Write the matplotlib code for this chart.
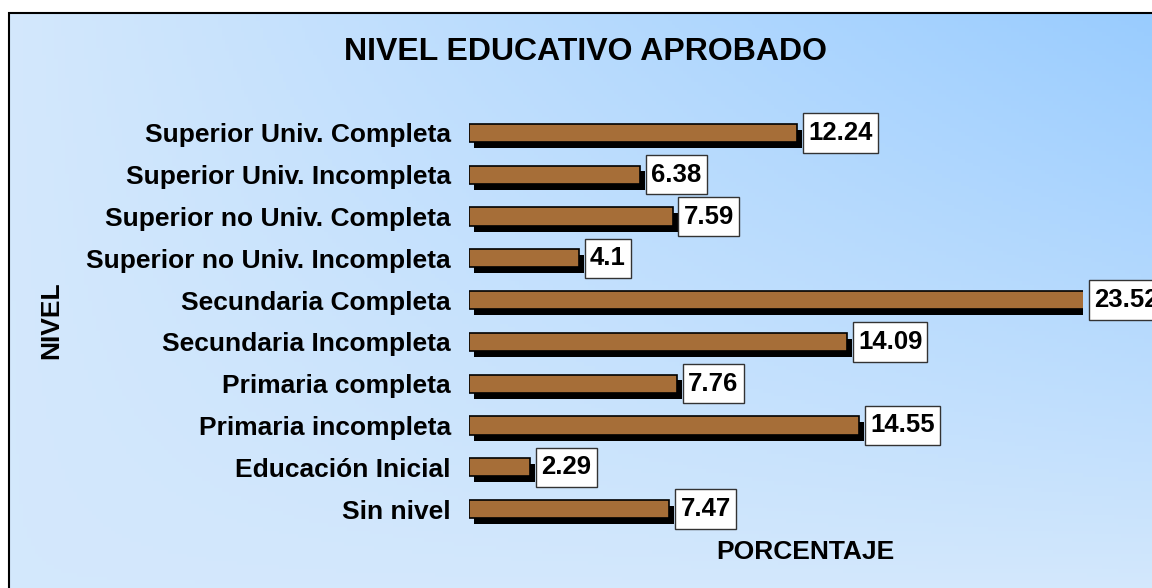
import numpy as np
import matplotlib
matplotlib.use("Agg")
import matplotlib.pyplot as plt
import matplotlib.patheffects as pe
from matplotlib.patches import Rectangle
from matplotlib.path import Path

plt.rcParams['font.family'] = ['Liberation Sans', 'DejaVu Sans']

niveles = ['Superior Univ. Completa', 'Superior Univ. Incompleta',
           'Superior no Univ. Completa', 'Superior no Univ. Incompleta',
           'Secundaria Completa', 'Secundaria Incompleta',
           'Primaria completa', 'Primaria incompleta',
           'Educación Inicial', 'Sin nivel']
porcentaje = [12.24, 6.38, 7.59, 4.1, 23.52, 14.09, 7.76, 14.55, 2.29, 7.47]

W, H = 1152, 588
X_MAX = 22.9  # axis maximum: the longest bar is clipped at the plot edge


def label_box(x0, y0, width, height, mutation_size):
    # white value box, more padding top/bottom than left/right
    px, py = 0.2 * mutation_size, 0.3 * mutation_size
    x0, y0 = x0 - px, y0 - py
    x1, y1 = x0 + width + 2 * px, y0 + height + 2 * py
    return Path([(x0, y0), (x1, y0), (x1, y1), (x0, y1), (x0, y0)], closed=True)


fig = plt.figure(figsize=(W / 100, H / 100), dpi=100)

# background: diagonal blue gradient inside a framed box
bg = fig.add_axes([0, 0, 1, 1], zorder=-10)
xx, yy = np.meshgrid(np.linspace(0, 1, 300), np.linspace(0, 1, 150))
f = np.clip(xx * yy ** 0.9, 0, 1)
light = np.array([0.83, 0.91, 0.99])
dark = np.array([0.60, 0.80, 1.0])
img = light[None, None, :] + (dark - light)[None, None, :] * f[..., None]
bg.imshow(img, extent=[8, W, 0, H - 13], origin='lower', aspect='auto')
bg.set_xlim(0, W)
bg.set_ylim(0, H)
bg.axis('off')
bg.add_patch(Rectangle((8.5, -5), W, H - 13 + 5, fill=False, ec='black', lw=1.5))

# main axes in pixel-derived coordinates
left, right = 469 / W, 1083 / W
top, bottom = 1 - 112 / H, 1 - 530 / H
ax = fig.add_axes([left, bottom, right - left, top - bottom])
ax.patch.set_alpha(0)
y = np.arange(len(niveles))
bars = ax.barh(y, porcentaje, height=0.44, color='#A66E38', edgecolor='black',
               linewidth=1.2, zorder=3)
for b in bars:
    b.set_path_effects([pe.SimplePatchShadow(offset=(3.6, -4.3), shadow_rgbFace='black', alpha=1),
                        pe.Normal()])
ax.set_xlim(0, X_MAX)
ax.set_ylim(len(niveles) - 0.5, -0.5)
ax.set_yticks(y)
ax.set_yticklabels(niveles, fontsize=19, fontweight='bold')
ax.tick_params(axis='y', length=0, pad=13)
ax.set_xticks([])
for s in ax.spines.values():
    s.set_visible(False)

for yi, v in zip(y, porcentaje):
    ax.annotate(f'{v:g}', xy=(min(v, X_MAX), yi), xytext=(8, 0), textcoords='offset points',
                ha='left', va='center', fontsize=18.5, fontweight='bold',
                bbox=dict(boxstyle=label_box, fc='white', ec='#333333', lw=1),
                zorder=5, annotation_clip=False)

fig.text(586 / W, 1 - 52 / H, 'NIVEL EDUCATIVO APROBADO', ha='center', va='center',
         fontsize=23, fontweight='bold')
fig.text(51 / W, 1 - 320 / H, 'NIVEL', rotation=90, ha='center', va='center',
         fontsize=19, fontweight='bold')
fig.text(805 / W, 1 - 552 / H, 'PORCENTAJE', ha='center', va='center',
         fontsize=19, fontweight='bold')

fig.savefig('out.png', dpi=100)
